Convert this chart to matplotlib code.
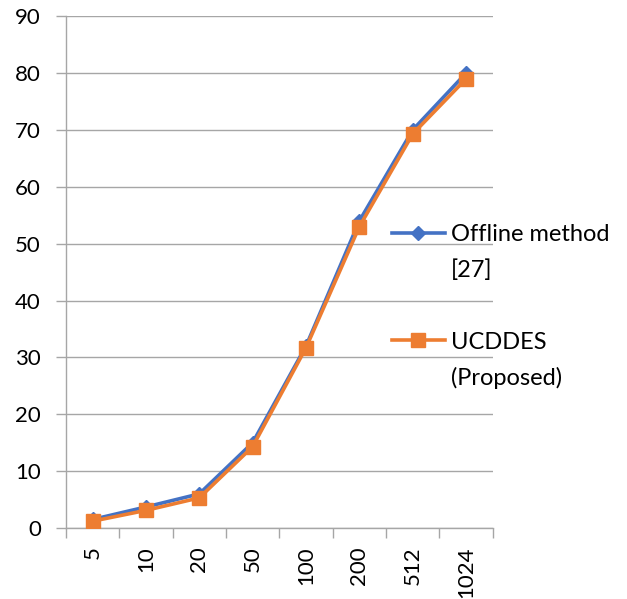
import matplotlib
matplotlib.use("Agg")
import matplotlib.pyplot as plt
from matplotlib.lines import Line2D
import numpy as np

plt.rcParams['font.family'] = ['Lato', 'DejaVu Sans']

categories = ['5', '10', '20', '50', '100', '200', '512', '1024']
offline = [1.5, 3.7, 6.0, 15.0, 32.0, 54.0, 70.0, 80.0]
ucddes = [1.2, 3.1, 5.3, 14.3, 31.7, 53.0, 69.3, 79.0]

blue = '#4472C4'
orange = '#ED7D31'
grid_c = '#A6A6A6'
fs = 16

fig = plt.figure(figsize=(6.27, 5.99), dpi=100)
ax = fig.add_axes([0.105, 0.1185, 0.681, 0.8545])

x = np.arange(len(categories))
ax.plot(x, offline, color=blue, lw=2.6, marker='D', ms=7.5, zorder=3)
ax.plot(x, ucddes, color=orange, lw=2.6, marker='s', ms=10, zorder=4)

ax.set_xlim(-0.5, len(categories) - 0.5)
ax.set_ylim(0, 90)
ax.set_yticks(range(0, 91, 10))
ax.set_xticks(x)
ax.set_xticklabels(categories, rotation=90, fontsize=fs)
ax.set_xticks(np.arange(-0.5, len(categories)), minor=True)
ax.tick_params(axis='x', which='major', length=0, pad=13)
ax.tick_params(axis='x', which='minor', length=7, width=1, color=grid_c, direction='out')
ax.tick_params(axis='y', length=7, width=1, color=grid_c, labelsize=fs, pad=11)

ax.grid(axis='y', color=grid_c, lw=1)
ax.set_axisbelow(True)
for s in ['top', 'right']:
    ax.spines[s].set_visible(False)
for s in ['left', 'bottom']:
    ax.spines[s].set_color(grid_c)
    ax.spines[s].set_linewidth(1)

# legend: first line of each entry carries the key
h_off = Line2D([], [], color=blue, lw=2.6, marker='D', ms=7.5)
h_ucd = Line2D([], [], color=orange, lw=2.6, marker='s', ms=10)
h_none = Line2D([], [], color='none')
leg = ax.legend([h_off, h_none, h_none, h_ucd, h_none],
                ['Offline method', '[27]', ' ', 'UCDDES', '(Proposed)'],
                loc='upper left', bbox_to_anchor=(0.763, 0.594),
                frameon=False, fontsize=17, handlelength=2.25,
                handletextpad=0.25, labelspacing=0.62, borderaxespad=0,
                borderpad=0)
leg.set_clip_on(False)

fig.savefig('out.png', dpi=100)
